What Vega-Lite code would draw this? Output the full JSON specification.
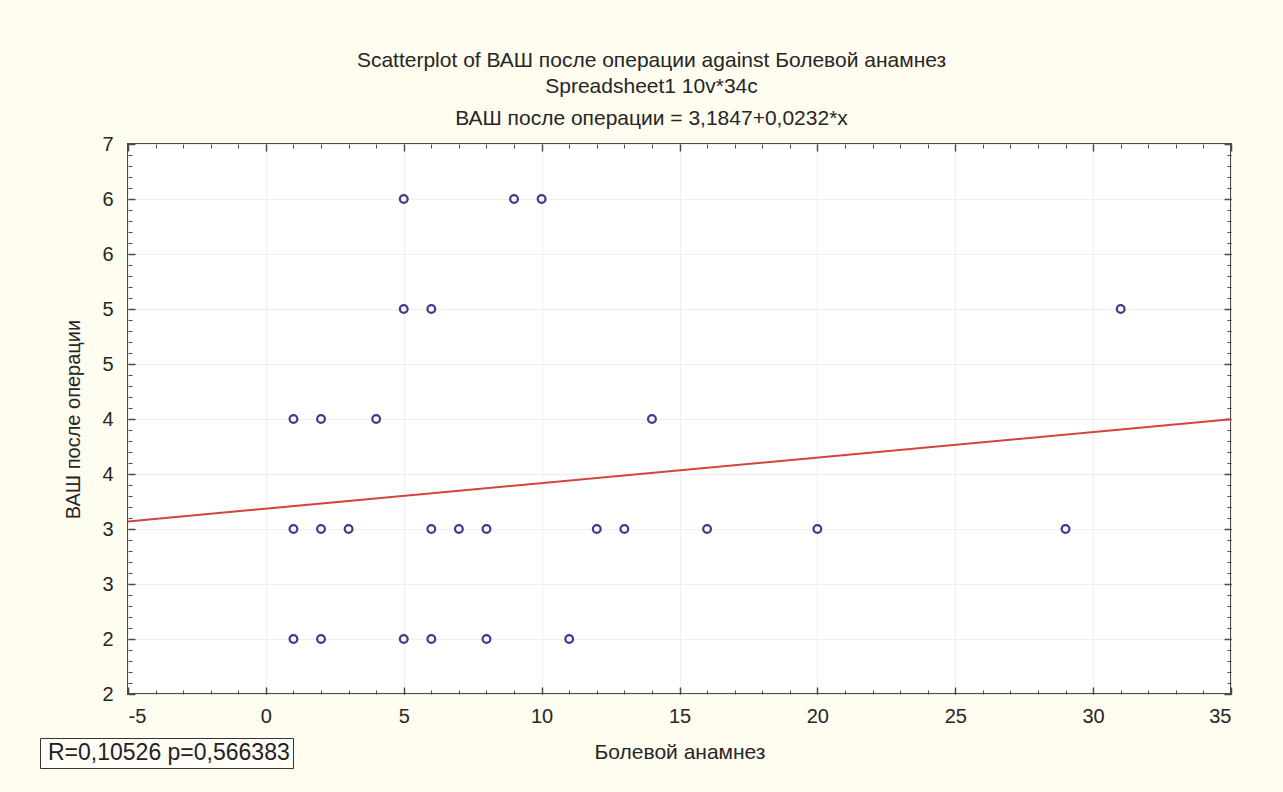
{
  "$schema": "https://vega.github.io/schema/vega-lite/v6.json",
  "width": 1103,
  "height": 550,
  "autosize": {"type": "none"},
  "padding": {"left": 128, "top": 144, "right": 52, "bottom": 98},
  "background": "#fffcf0",
  "config": {
    "font": "Liberation Sans",
    "view": {"fill": "white", "stroke": "#4a4a4a", "strokeWidth": 2},
    "axis": {"domain": false, "labelColor": "#262626", "titleColor": "#262626", "tickColor": "#4a4a4a", "titleFontWeight": "normal"}
  },
  "title": {
    "text": ["Scatterplot of ВАШ после операции against Болевой анамнез", "Spreadsheet1 10v*34c"],
    "subtitle": "ВАШ после операции = 3,1847+0,0232*x",
    "fontSize": 21,
    "fontWeight": "normal",
    "color": "#262626",
    "lineHeight": 26,
    "subtitleFontSize": 21,
    "subtitleColor": "#262626",
    "subtitlePadding": 11,
    "anchor": "middle",
    "frame": "group",
    "dx": -28,
    "offset": 5
  },
  "datasets": {
    "points": [
      {"x": 5, "y": 6}, {"x": 9, "y": 6}, {"x": 10, "y": 6},
      {"x": 5, "y": 5}, {"x": 6, "y": 5}, {"x": 31, "y": 5},
      {"x": 1, "y": 4}, {"x": 2, "y": 4}, {"x": 4, "y": 4}, {"x": 14, "y": 4},
      {"x": 1, "y": 3}, {"x": 2, "y": 3}, {"x": 3, "y": 3}, {"x": 6, "y": 3}, {"x": 7, "y": 3}, {"x": 8, "y": 3}, {"x": 12, "y": 3}, {"x": 13, "y": 3}, {"x": 16, "y": 3}, {"x": 20, "y": 3}, {"x": 29, "y": 3},
      {"x": 1, "y": 2}, {"x": 2, "y": 2}, {"x": 5, "y": 2}, {"x": 6, "y": 2}, {"x": 8, "y": 2}, {"x": 11, "y": 2}
    ],
    "fit": [
      {"x": -5, "y": 3.0687, "stat": "R=0,10526 p=0,566383"},
      {"x": 35, "y": 3.9967, "stat": "R=0,10526 p=0,566383"}
    ]
  },
  "layer": [
    {
      "data": {"name": "points"},
      "mark": {"type": "point", "shape": "circle", "filled": false, "stroke": "#3c3c8c", "strokeWidth": 2.2, "size": 60, "opacity": 1},
      "encoding": {
        "x": {"field": "x", "type": "quantitative", "scale": {"domain": [-5, 35], "nice": false, "zero": false},
          "axis": {"orient": "bottom", "values": [-5, 0, 5, 10, 15, 20, 25, 30, 35], "labelExpr": "replace(datum.label, '−', '-')", "ticks": false, "grid": true, "gridColor": "#efefef", "labelFontSize": 20, "labelPadding": 12, "title": "Болевой анамнез", "titleFontSize": 21, "titlePadding": 15}},
        "y": {"field": "y", "type": "quantitative", "scale": {"domain": [1.5, 6.5], "nice": false, "zero": false},
          "axis": {"orient": "left", "values": [1.5, 2, 2.5, 3, 3.5, 4, 4.5, 5, 5.5, 6, 6.5], "format": ".0f", "ticks": false, "grid": true, "gridColor": "#efefef", "labelFontSize": 20, "labelPadding": 15, "title": "ВАШ после операции", "titleFontSize": 20, "titlePadding": 18}}
      }
    },
    {
      "data": {"name": "fit"},
      "mark": {"type": "line", "strokeWidth": 2},
      "encoding": {
        "x": {"field": "x", "type": "quantitative", "scale": {"domain": [-5, 35], "nice": false, "zero": false},
          "axis": {"orient": "bottom", "values": [-5, 0, 5, 10, 15, 20, 25, 30, 35], "labels": false, "grid": false, "tickSize": -7, "tickWidth": 1.5, "title": null}},
        "y": {"field": "y", "type": "quantitative", "scale": {"domain": [1.5, 6.5], "nice": false, "zero": false},
          "axis": {"orient": "left", "values": [1.5, 2, 2.5, 3, 3.5, 4, 4.5, 5, 5.5, 6, 6.5], "labels": false, "grid": false, "tickSize": -7, "tickWidth": 1.5, "title": null}},
        "color": {"field": "stat", "type": "nominal", "scale": {"range": ["#d2453c"]},
          "legend": {"orient": "none", "legendX": -88, "legendY": 594, "title": null, "labelFontSize": 23, "labelColor": "#222222", "labelLimit": 500, "labelOffset": -18, "symbolSize": 0, "symbolOpacity": 0, "symbolStrokeWidth": 0, "padding": 3, "strokeColor": "#333333", "fillColor": "#fffdf6"}}
      }
    },
    {
      "data": {"name": "fit"},
      "mark": {"type": "line", "opacity": 0},
      "encoding": {
        "x": {"field": "x", "type": "quantitative", "scale": {"domain": [-5, 35], "nice": false, "zero": false},
          "axis": {"orient": "bottom", "values": [-5,-4,-3,-2,-1,0,1,2,3,4,5,6,7,8,9,10,11,12,13,14,15,16,17,18,19,20,21,22,23,24,25,26,27,28,29,30,31,32,33,34,35], "labels": false, "grid": false, "tickSize": -4, "title": null}},
        "y": {"field": "y", "type": "quantitative", "scale": {"domain": [1.5, 6.5], "nice": false, "zero": false},
          "axis": {"orient": "left", "values": [1.5,1.6,1.7,1.8,1.9,2,2.1,2.2,2.3,2.4,2.5,2.6,2.7,2.8,2.9,3,3.1,3.2,3.3,3.4,3.5,3.6,3.7,3.8,3.9,4,4.1,4.2,4.3,4.4,4.5,4.6,4.7,4.8,4.9,5,5.1,5.2,5.3,5.4,5.5,5.6,5.7,5.8,5.9,6,6.1,6.2,6.3,6.4,6.5], "labels": false, "grid": false, "tickSize": -4, "title": null}}
      }
    },
    {
      "data": {"name": "fit"},
      "mark": {"type": "line", "opacity": 0},
      "encoding": {
        "x": {"field": "x", "type": "quantitative", "scale": {"domain": [-5, 35], "nice": false, "zero": false},
          "axis": {"orient": "top", "values": [-5, 0, 5, 10, 15, 20, 25, 30, 35], "labels": false, "grid": false, "tickSize": -7, "tickWidth": 1.5, "title": null}},
        "y": {"field": "y", "type": "quantitative", "scale": {"domain": [1.5, 6.5], "nice": false, "zero": false},
          "axis": {"orient": "right", "values": [1.5, 2, 2.5, 3, 3.5, 4, 4.5, 5, 5.5, 6, 6.5], "labels": false, "grid": false, "tickSize": -7, "tickWidth": 1.5, "title": null}}
      }
    },
    {
      "data": {"name": "fit"},
      "mark": {"type": "line", "opacity": 0},
      "encoding": {
        "x": {"field": "x", "type": "quantitative", "scale": {"domain": [-5, 35], "nice": false, "zero": false},
          "axis": {"orient": "top", "values": [-5,-4,-3,-2,-1,0,1,2,3,4,5,6,7,8,9,10,11,12,13,14,15,16,17,18,19,20,21,22,23,24,25,26,27,28,29,30,31,32,33,34,35], "labels": false, "grid": false, "tickSize": -4, "title": null}},
        "y": {"field": "y", "type": "quantitative", "scale": {"domain": [1.5, 6.5], "nice": false, "zero": false},
          "axis": {"orient": "right", "values": [1.5,1.6,1.7,1.8,1.9,2,2.1,2.2,2.3,2.4,2.5,2.6,2.7,2.8,2.9,3,3.1,3.2,3.3,3.4,3.5,3.6,3.7,3.8,3.9,4,4.1,4.2,4.3,4.4,4.5,4.6,4.7,4.8,4.9,5,5.1,5.2,5.3,5.4,5.5,5.6,5.7,5.8,5.9,6,6.1,6.2,6.3,6.4,6.5], "labels": false, "grid": false, "tickSize": -4, "title": null}}
      }
    }
  ],
  "resolve": {"axis": {"x": "independent", "y": "independent"}}
}
